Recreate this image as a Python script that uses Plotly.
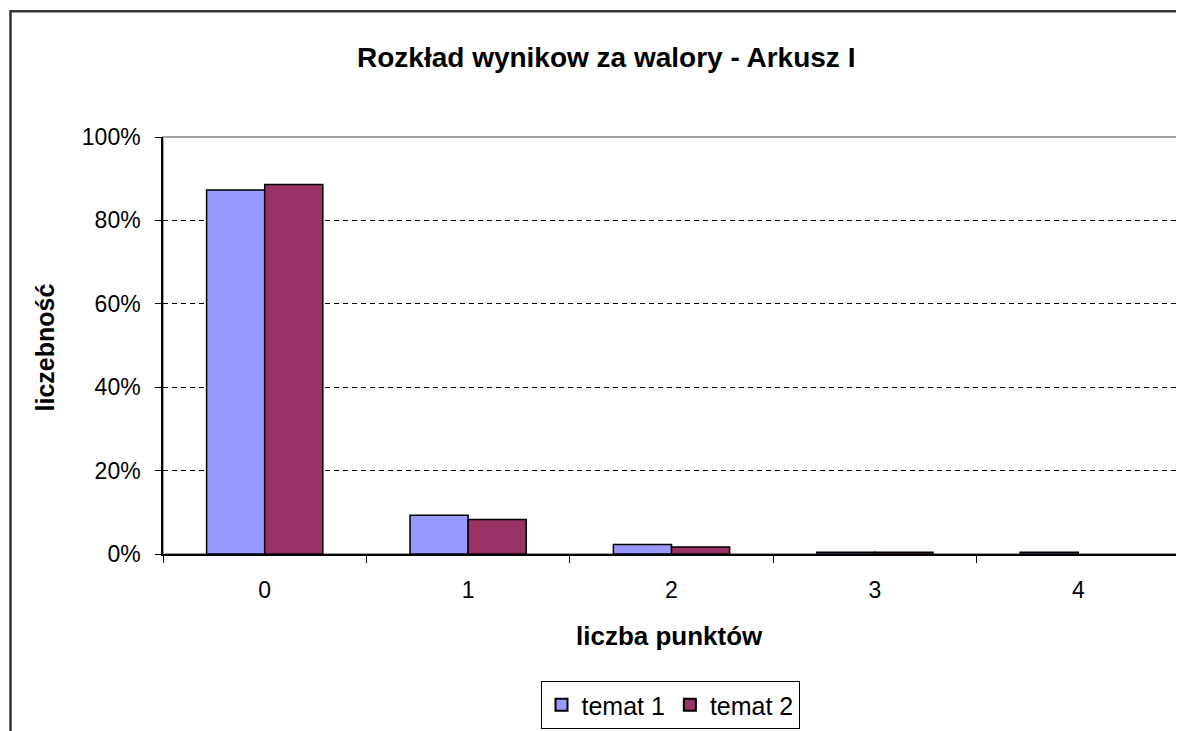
import plotly.graph_objects as go

categories = ["0", "1", "2", "3", "4"]
temat_1 = [0.873, 0.093, 0.023, 0.004, 0.004]
temat_2 = [0.886, 0.083, 0.017, 0.004, None]
series_names = ["temat 1", "temat 2"]
title_text = "Rozkład wynikow za walory - Arkusz I"
x_title = "liczba punktów"
y_title = "liczebność"

# page body has an 8px margin, so work in figure coordinates = screen - 8
OFF = 8
W, H = 1184 - OFF, 731 - OFF
L, T = 163 - OFF, 137 - OFF
PR, PB = 1180 - OFF, 555 - OFF
R, B = W - PR, H - PB
pw, ph = PR - L, PB - T

def px_x(x):
    return (x - OFF - L) / pw

def px_y(y):
    return (PB - (y - OFF)) / ph

fig = go.Figure()
fig.add_bar(x=categories, y=temat_1, name=series_names[0],
            marker=dict(color="#9999FF", line=dict(color="black", width=1.5)))
fig.add_bar(x=categories, y=temat_2, name=series_names[1],
            marker=dict(color="#993366", line=dict(color="black", width=1.5)))

font = "Arial, Liberation Sans, sans-serif"
fig.update_layout(
    width=W, height=H,
    margin=dict(l=L, r=R, t=T, b=B, pad=0),
    paper_bgcolor="white", plot_bgcolor="white",
    barmode="group", bargap=1.5 / 3.5, bargroupgap=0,
    font=dict(family=font, size=23, color="black"),
    showlegend=True,
    legend=dict(orientation="h", x=px_x(670), y=px_y(705), xanchor="center", yanchor="middle",
                bordercolor="black", borderwidth=1, font=dict(size=25),
                itemsizing="constant", traceorder="normal", itemwidth=30,
                tracegroupgap=0),
    xaxis=dict(showline=True, linecolor="black", linewidth=1.5,
               ticks="outside", ticklen=7, tickcolor="black", tickson="boundaries",
               tickfont=dict(size=23), showgrid=False, zeroline=False,
               ticklabelstandoff=15),
    yaxis=dict(range=[0, 1], dtick=0.2, tickformat=".0%", showline=True, linecolor="black",
               linewidth=1.5, ticks="outside", ticklen=6, tickcolor="black",
               tickfont=dict(size=23), showgrid=True, gridcolor="black", gridwidth=1,
               griddash="5px,4px", zeroline=False, ticklabelstandoff=10),
    annotations=[
        dict(text="<b>" + title_text + "</b>", x=px_x(606), y=px_y(57), xref="paper",
             yref="paper", xanchor="center", yanchor="middle", showarrow=False,
             font=dict(size=28)),
        dict(text="<b>" + x_title + "</b>", x=px_x(669), y=px_y(637), xref="paper",
             yref="paper", xanchor="center", yanchor="middle", showarrow=False,
             font=dict(size=26)),
        dict(text="<b>" + y_title + "</b>", x=px_x(45), y=px_y(348), xref="paper",
             yref="paper", xanchor="center", yanchor="middle", showarrow=False,
             textangle=-90, font=dict(size=25)),
    ],
    shapes=[
        dict(type="rect", xref="paper", yref="paper", x0=0, x1=1, y0=0, y1=1,
             line=dict(color="#A0A0A0", width=2), layer="below"),
        dict(type="line", xref="paper", yref="paper", x0=px_x(10.5), x1=px_x(10.5),
             y0=px_y(10), y1=px_y(760), line=dict(color="#333333", width=2.5)),
        dict(type="line", xref="paper", yref="paper", x0=px_x(10), x1=px_x(1200),
             y0=px_y(11), y1=px_y(11), line=dict(color="#333333", width=2.5)),
    ],
)

fig.write_html("out.html")
